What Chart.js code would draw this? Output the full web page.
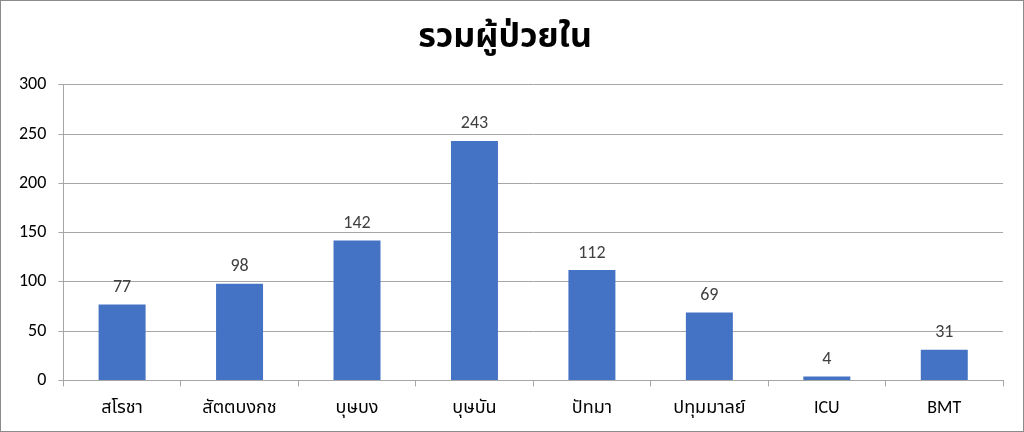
<!DOCTYPE html>
<html lang="th">
<head>
    <meta charset="UTF-8">
    <title>รวมผู้ป่วยใน</title>
    <script src="https://cdn.jsdelivr.net/npm/chart.js"></script>
    <style>
        body { margin: 0; background: #fff; }
        canvas { display: block; }
    </style>
</head>
<body>
    <canvas id="chart" width="1024" height="432"></canvas>
    <script>
        const wards = ['สโรชา', 'สัตตบงกช', 'บุษบง', 'บุษบัน', 'ปัทมา', 'ปทุมมาลย์', 'ICU', 'BMT'];
        const patients = [77, 98, 142, 243, 112, 69, 4, 31];
        const fontFamily = "Calibri, 'Liberation Sans', 'Noto Sans', 'Noto Sans Thai', sans-serif";

        // values above each bar + grey frame round the picture
        const extras = {
            id: 'extras',
            afterDatasetsDraw(chart) {
                const ctx = chart.ctx;
                const meta = chart.getDatasetMeta(0);
                ctx.save();
                ctx.font = '18px ' + fontFamily;
                ctx.fillStyle = '#404040';
                ctx.textAlign = 'center';
                ctx.textBaseline = 'bottom';
                meta.data.forEach((bar, i) => {
                    ctx.fillText(patients[i], bar.x, bar.y - 8);
                });
                ctx.restore();
            },
            afterDraw(chart) {
                const ctx = chart.ctx;
                ctx.save();
                ctx.strokeStyle = '#8c8c8c';
                ctx.lineWidth = 1;
                ctx.strokeRect(0.5, 0.5, chart.width - 1, chart.height - 1);
                ctx.restore();
            }
        };

        new Chart(document.getElementById('chart'), {
            type: 'bar',
            data: {
                labels: wards,
                datasets: [{
                    label: 'รวมผู้ป่วยใน',
                    data: patients,
                    backgroundColor: '#4472C4',
                    categoryPercentage: 1,
                    barPercentage: 0.4
                }]
            },
            options: {
                responsive: false,
                animation: false,
                layout: { padding: { left: 7, right: 21, top: 0, bottom: 2 } },
                plugins: {
                    legend: { display: false },
                    tooltip: { enabled: false },
                    title: {
                        display: true,
                        text: 'รวมผู้ป่วยใน',
                        color: '#000',
                        font: { family: fontFamily, size: 34, weight: 'bold' },
                        padding: { top: 18, bottom: 26 }
                    }
                },
                scales: {
                    x: {
                        grid: { display: true, drawOnChartArea: false, drawTicks: true, tickLength: 6, color: '#a6a6a6' },
                        border: { color: '#a6a6a6' },
                        ticks: { color: '#000', font: { family: fontFamily, size: 18 }, padding: 11 }
                    },
                    y: {
                        min: 0,
                        max: 300,
                        ticks: { stepSize: 50, color: '#000', font: { family: fontFamily, size: 18 }, padding: 12 },
                        grid: { color: '#a6a6a6', tickLength: 5 },
                        border: { color: '#a6a6a6' }
                    }
                }
            },
            plugins: [extras]
        });
    </script>
</body>
</html>
